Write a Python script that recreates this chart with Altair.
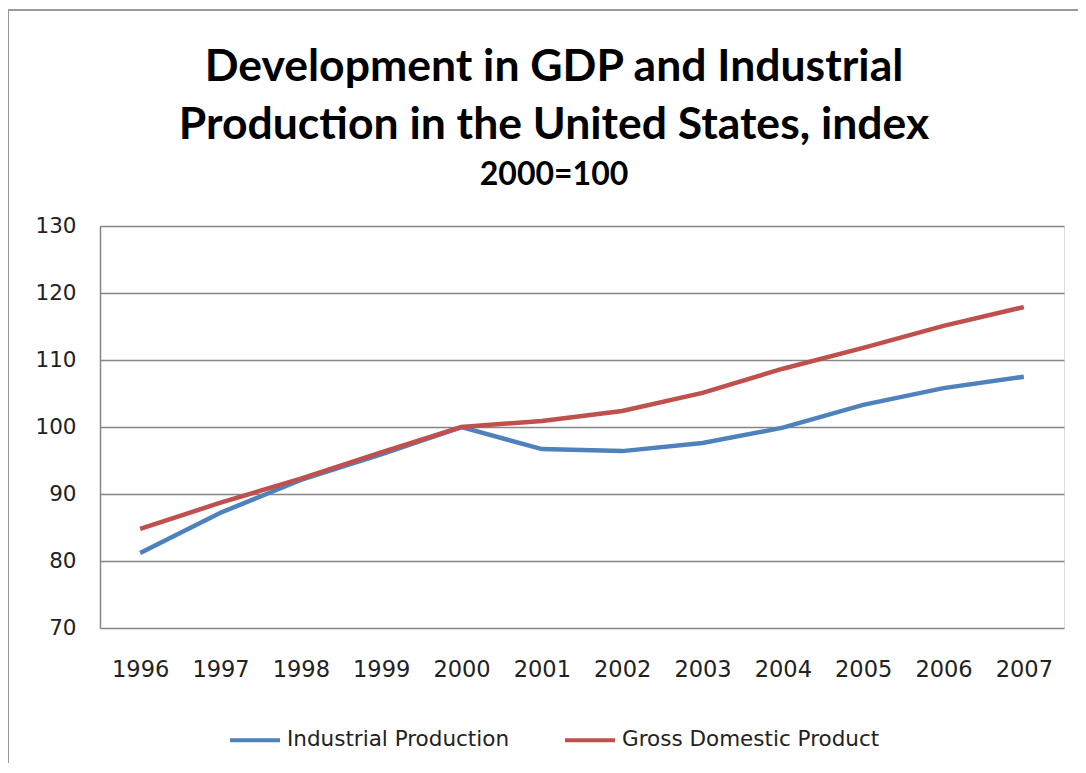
import altair as alt
import pandas as pd

years = ["1996", "1997", "1998", "1999", "2000", "2001", "2002", "2003", "2004", "2005", "2006", "2007"]
industrial = [81.2, 87.2, 92.1, 95.9, 100.0, 96.7, 96.4, 97.6, 99.9, 103.3, 105.8, 107.5]
gdp = [84.8, 88.7, 92.3, 96.2, 100.0, 100.9, 102.4, 105.1, 108.7, 111.8, 115.1, 117.9]
series_names = ["Industrial Production", "Gross Domestic Product"]
series_colors = ["#4F81BD", "#C0504D"]

rows = []
for name, vals in zip(series_names, [industrial, gdp]):
    for y, v in zip(years, vals):
        rows.append({"Year": y, "Series": name, "Value": v})
df = pd.DataFrame(rows)

TFONT = "Lato"
LFONT = "DejaVu Sans"

lines = alt.Chart(df).mark_line(strokeWidth=4.5).encode(
    x=alt.X("Year:N", sort=years, title=None,
            scale=alt.Scale(paddingInner=1, paddingOuter=0.5),
            axis=alt.Axis(labelAngle=0, ticks=False, domain=False, labelPadding=30,
                          labelFontSize=22.5, labelColor="#222", labelFont=LFONT)),
    y=alt.Y("Value:Q", title=None,
            scale=alt.Scale(domain=[70, 130], nice=False, zero=False),
            axis=alt.Axis(values=[70, 80, 90, 100, 110, 120, 130], ticks=False,
                          domain=True, domainColor="#868686", domainWidth=1.5,
                          grid=True, gridColor="#868686", gridWidth=1.5,
                          labelPadding=24, labelFontSize=21.5, labelColor="#222", labelFont=LFONT)),
    color=alt.Color("Series:N", sort=series_names,
                    scale=alt.Scale(domain=series_names, range=series_colors),
                    legend=alt.Legend(title=None, orient="none", direction="horizontal",
                                      legendX=128, legendY=487,
                                      symbolType="stroke", symbolSize=2500, symbolStrokeWidth=4,
                                      labelFontSize=21.5, labelFont=LFONT, labelColor="#222",
                                      labelLimit=0, columnPadding=47, labelOffset=5)),
)

border_df = pd.DataFrame({"k": [0]})
border = alt.Chart(border_df).mark_rect(fill=None, stroke="#999999", strokeWidth=2, clip=False).encode(
    x=alt.value(-92), x2=alt.value(990), y=alt.value(-216), y2=alt.value(540)
)

chart = alt.layer(border, lines).properties(
    width=964,
    height=402,
    autosize=alt.AutoSizeParams(type="none"),
    padding={"left": 92, "top": 218, "right": 14, "bottom": 135},
    title=alt.TitleParams(
        text=["Development in GDP and Industrial", "Production in the United States, index"],
        subtitle="2000=100",
        font=TFONT, fontSize=44.5, fontWeight="bold", color="#000",
        subtitleFont=TFONT, subtitleFontSize=32, subtitleFontWeight="bold", subtitleColor="#000",
        lineHeight=58, subtitlePadding=12, anchor="middle", offset=0, dx=-28, dy=183,
    ),
).configure_view(stroke=None).configure(background="white")

chart.save("out.html", embed_options={"renderer": "svg", "actions": False})
